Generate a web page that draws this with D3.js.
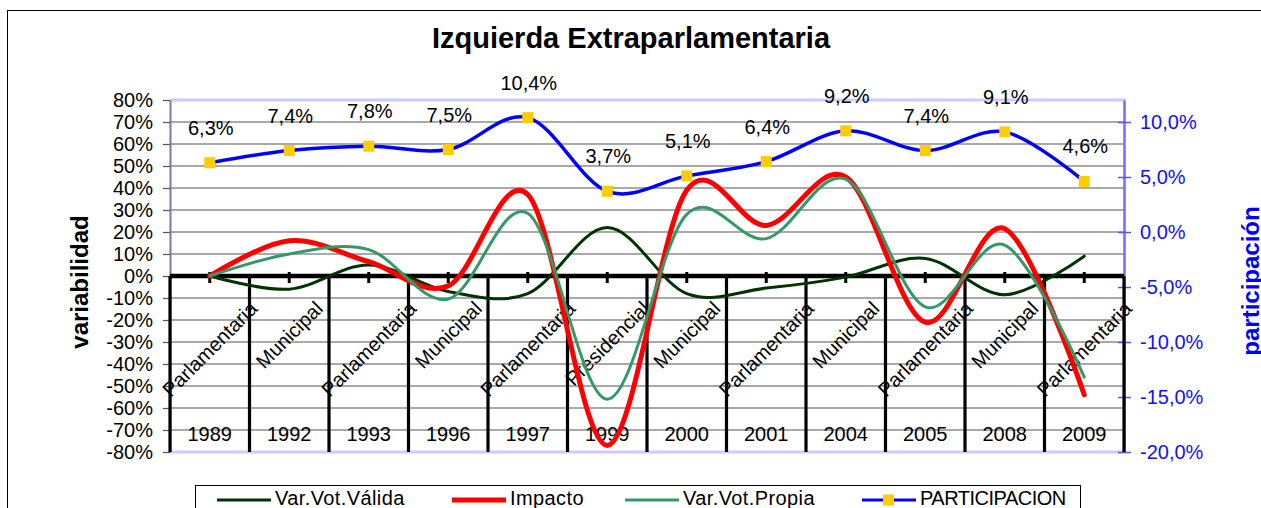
<!DOCTYPE html>
<html>
<head>
<meta charset="utf-8">
<script src="https://cdn.jsdelivr.net/npm/d3@7"></script>
<style>
body { margin: 0; background: #fff; }
text { font-family: "Liberation Sans", Arial, Helvetica, sans-serif; }
</style>
</head>
<body>
<div id="chart"></div>
<script>
// Data (percent units)
const years = ["1989", "1992", "1993", "1996", "1997", "1999", "2000", "2001", "2004", "2005", "2008", "2009"];
const elections = ["Parlamentaria", "Municipal", "Parlamentaria", "Municipal", "Parlamentaria", "Presidencial",
                   "Municipal", "Parlamentaria", "Municipal", "Parlamentaria", "Municipal", "Parlamentaria"];
const varVotValida = [0, -6, 5, -7, -8, 22, -8, -5.5, -0.5, 8, -8.5, 9];
const impacto = [0, 16, 6.5, -4.5, 37, -77, 39, 23, 45, -21, 21.5, -54];
const varVotPropia = [0, 10, 12, -10.5, 28.5, -56, 28, 17, 44, -14, 14, -46];
const participacion = [6.3, 7.4, 7.8, 7.5, 10.4, 3.7, 5.1, 6.4, 9.2, 7.4, 9.1, 4.6];
const leftTicks = d3.range(-80, 81, 10);
const rightTicks = [-20, -15, -10, -5, 0, 5, 10];

const W = 1261, H = 508;
const plot = { left: 170, right: 1124, top: 100, bottom: 452 };

const svg = d3.select("#chart").append("svg")
    .attr("width", W)
    .attr("height", H);

// chart border
svg.append("rect")
    .attr("x", 7.5).attr("y", 10.5)
    .attr("width", W).attr("height", H)
    .attr("fill", "#fff").attr("stroke", "#000");

// Scales
const x = d3.scaleBand().domain(years).range([plot.left, plot.right]);
const cx = d => x(d) + x.bandwidth() / 2;
const yL = d3.scaleLinear().domain([-80, 80]).range([plot.bottom, plot.top]);
const yR = d3.scaleLinear().domain([-20, 12]).range([plot.bottom, plot.top]);

// Title
svg.append("text")
    .attr("x", 631).attr("y", 48)
    .attr("text-anchor", "middle")
    .attr("font-size", 29)
    .attr("font-weight", "bold")
    .text("Izquierda Extraparlamentaria");

// Gridlines
svg.append("g")
    .selectAll("line")
    .data(leftTicks.filter(t => t > -80 && t < 80 && t !== 0))
    .join("line")
    .attr("x1", plot.left).attr("x2", plot.right)
    .attr("y1", d => yL(d)).attr("y2", d => yL(d))
    .attr("stroke", "#555")
    .attr("stroke-width", 1.2);

// top / bottom plot border (lavender)
[plot.top, plot.bottom].forEach(yy => {
    svg.append("line")
        .attr("x1", plot.left).attr("x2", plot.right + 2)
        .attr("y1", yy).attr("y2", yy)
        .attr("stroke", "#ccccff")
        .attr("stroke-width", 3);
});

// Left axis
const leftAxis = svg.append("g")
    .attr("transform", `translate(${plot.left},0)`)
    .call(d3.axisLeft(yL)
        .tickValues(leftTicks)
        .tickSizeInner(7)
        .tickSizeOuter(0)
        .tickPadding(10)
        .tickFormat(d => d + "%"));
leftAxis.select(".domain").attr("stroke", "#7777aa").attr("stroke-width", 2);
leftAxis.selectAll(".tick line").attr("stroke", "#555").attr("stroke-width", 1.2);
leftAxis.selectAll(".tick text")
    .attr("font-size", 20)
    .attr("fill", "#000")
    .style("font-family", "'Liberation Sans', Arial, sans-serif");

// Right axis
const rightAxis = svg.append("g")
    .attr("transform", `translate(${plot.right},0)`)
    .call(d3.axisRight(yR)
        .tickValues(rightTicks)
        .tickSizeInner(7)
        .tickSizeOuter(0)
        .tickPadding(9)
        .tickFormat(d => d.toFixed(1).replace(".", ",") + "%"));
rightAxis.select(".domain").attr("stroke", "#6f6fff").attr("stroke-width", 2.5);
rightAxis.selectAll(".tick line").attr("x1", -6).attr("stroke", "#5555ff").attr("stroke-width", 1.5);
rightAxis.selectAll(".tick text")
    .attr("font-size", 20)
    .attr("fill", "#1010ff")
    .style("font-family", "'Liberation Sans', Arial, sans-serif");

// Axis titles
svg.append("text")
    .attr("transform", `translate(88,282) rotate(-90)`)
    .attr("text-anchor", "middle")
    .attr("font-size", 24)
    .attr("font-weight", "bold")
    .text("variabilidad");

svg.append("text")
    .attr("transform", `translate(1259,281) rotate(-90)`)
    .attr("text-anchor", "middle")
    .attr("font-size", 24)
    .attr("font-weight", "bold")
    .attr("fill", "#0000ff")
    .text("participación");

// Category axis: separators, zero line, ticks
const edges = years.map(d => x(d)).concat([plot.right]);
svg.append("g")
    .selectAll("line")
    .data(edges)
    .join("line")
    .attr("x1", d => d).attr("x2", d => d)
    .attr("y1", yL(0)).attr("y2", plot.bottom)
    .attr("stroke", "#000")
    .attr("stroke-width", 3.2);

svg.append("line")
    .attr("x1", plot.left).attr("x2", plot.right)
    .attr("y1", yL(0)).attr("y2", yL(0))
    .attr("stroke", "#000")
    .attr("stroke-width", 4.5);

svg.append("g")
    .selectAll("line")
    .data(years)
    .join("line")
    .attr("x1", d => cx(d)).attr("x2", d => cx(d))
    .attr("y1", yL(0) - 4).attr("y2", yL(0) + 7)
    .attr("stroke", "#000")
    .attr("stroke-width", 3);

// Election type labels (rotated)
svg.append("g")
    .selectAll("text")
    .data(elections)
    .join("text")
    .attr("font-size", 20)
    .attr("text-anchor", "middle")
    .attr("dy", "0.35em")
    .text(d => d)
    .each(function(d, i) {
        const L = this.getComputedTextLength();
        const ty = 300 + (L + 14) * Math.SQRT1_2 / 2;
        d3.select(this).attr("transform", `translate(${cx(years[i])},${ty}) rotate(-45)`);
    });

// Year labels
svg.append("g")
    .selectAll("text")
    .data(years)
    .join("text")
    .attr("x", d => cx(d))
    .attr("y", 441)
    .attr("text-anchor", "middle")
    .attr("font-size", 20)
    .text(d => d);

// Series lines
const series = [
    { name: "Var.Vot.Válida", values: varVotValida, color: "#003300", width: 3 },
    { name: "Impacto", values: impacto, color: "#ff0000", width: 5 },
    { name: "Var.Vot.Propia", values: varVotPropia, color: "#339966", width: 3 }
];

const lineL = d3.line()
    .x((d, i) => cx(years[i]))
    .y(d => yL(d))
    .curve(d3.curveCatmullRom.alpha(0));

series.forEach(s => {
    svg.append("path")
        .datum(s.values)
        .attr("d", lineL)
        .attr("fill", "none")
        .attr("stroke", s.color)
        .attr("stroke-width", s.width)
        .attr("stroke-linejoin", "round")
        .attr("stroke-linecap", "round");
});

const lineR = d3.line()
    .x((d, i) => cx(years[i]))
    .y(d => yR(d))
    .curve(d3.curveCatmullRom.alpha(0));

svg.append("path")
    .datum(participacion)
    .attr("d", lineR)
    .attr("fill", "none")
    .attr("stroke", "#0000ff")
    .attr("stroke-width", 3.5)
    .attr("stroke-linejoin", "round");

svg.append("g")
    .selectAll("rect")
    .data(participacion)
    .join("rect")
    .attr("x", (d, i) => cx(years[i]) - 5.5)
    .attr("y", d => yR(d) - 5.5)
    .attr("width", 11).attr("height", 11)
    .attr("fill", "#ffcc00");

// Data labels
svg.append("g")
    .selectAll("text")
    .data(participacion)
    .join("text")
    .attr("x", (d, i) => cx(years[i]) + 1)
    .attr("y", d => yR(d) - 28)
    .attr("text-anchor", "middle")
    .attr("font-size", 20)
    .text(d => d.toFixed(1).replace(".", ",") + "%");

// Legend
const legend = svg.append("g");
legend.append("rect")
    .attr("x", 195.5).attr("y", 485.5)
    .attr("width", 885).attr("height", 40)
    .attr("fill", "#fff").attr("stroke", "#000");

const legendItems = [
    { name: "Var.Vot.Válida", color: "#003300", width: 3, x: 217 },
    { name: "Impacto", color: "#ff0000", width: 5, x: 452 },
    { name: "Var.Vot.Propia", color: "#339966", width: 3, x: 625 },
    { name: "PARTICIPACION", color: "#0000ff", width: 3, x: 862, marker: true }
];

legendItems.forEach(it => {
    legend.append("line")
        .attr("x1", it.x).attr("x2", it.x + 54)
        .attr("y1", 500).attr("y2", 500)
        .attr("stroke", it.color)
        .attr("stroke-width", it.width);
    if (it.marker) {
        legend.append("rect")
            .attr("x", it.x + 21).attr("y", 494.5)
            .attr("width", 11).attr("height", 11)
            .attr("fill", "#ffcc00");
    }
    legend.append("text")
        .attr("x", it.x + 58)
        .attr("y", 505)
        .attr("font-size", 20)
        .style("letter-spacing", it.marker ? "-0.5px" : "0.4px")
        .text(it.name);
});
</script>
</body>
</html>
